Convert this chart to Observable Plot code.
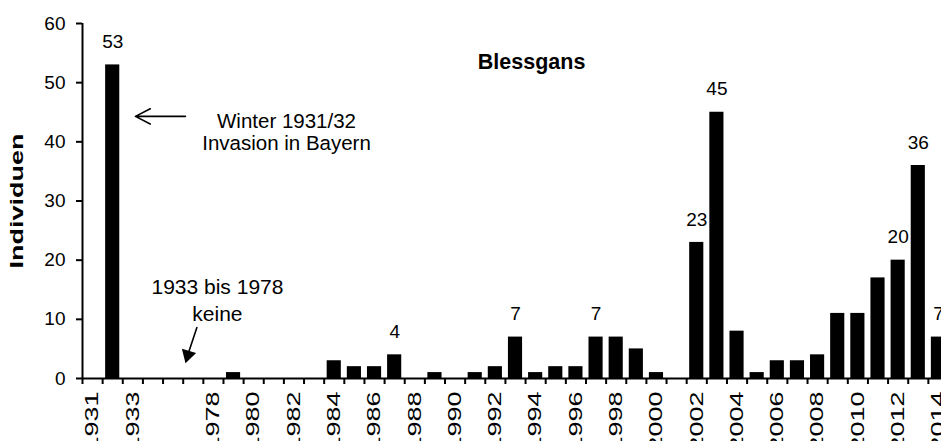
<!DOCTYPE html>
<html><head><meta charset="utf-8">
<script src="https://cdn.jsdelivr.net/npm/d3@7"></script>
<script src="https://cdn.jsdelivr.net/npm/@observablehq/plot@0.6"></script>
<style>html,body{margin:0;padding:0;background:#fff;overflow:hidden}</style>
</head><body><div id="chart"></div>
<script>
// Categories (three unlabeled gap slots between 1933 and 1978)
const years = ["1931","1932","1933","","","",
  "1978","1979","1980","1981","1982","1983","1984","1985","1986","1987","1988","1989",
  "1990","1991","1992","1993","1994","1995","1996","1997","1998","1999","2000","2001",
  "2002","2003","2004","2005","2006","2007","2008","2009","2010","2011","2012","2013","2014"];
const counts = [0,53,0,0,0,0,
  0,1,0,0,0,0,3,2,2,4,0,1,
  0,1,2,7,1,2,2,7,7,5,1,0,
  23,45,8,1,3,3,4,11,11,17,20,36,7];
const labeledYears = ["1932","1987","1993","1997","2002","2003","2012","2013","2014"];
const yTicks = [0,10,20,30,40,50,60];
const title = "Blessgans";
const yLabel = "Individuen";
const noteInvasion = "Winter 1931/32\nInvasion in Bayern";
const noteGap = "1933 bis 1978\nkeine";

const data = years.map((year, i) => ({i, year, n: counts[i]}));
const bars = data.filter(d => d.n > 0);
const labeled = data.filter(d => labeledYears.includes(d.year));
const boundaries = d3.range(years.length + 1);
const labelTicks = data.filter(d => d.i % 2 === 0).map(d => d.i + 0.5);

const plot = Plot.plot({
  width: 941, height: 441,
  marginLeft: 82, marginRight: 0, marginTop: 23, marginBottom: 63,
  style: {fontFamily: "'Liberation Sans', Arial, Helvetica, sans-serif", fontSize: "19px", color: "#000", background: "#fff"},
  x: {type: "linear", domain: [0, years.length], range: [82, 948]},
  y: {domain: [0, 60]},
  marks: [
    Plot.rectY(bars, {x1: "i", x2: d => d.i + 1, y: "n", fill: "#000", insetLeft: 3, insetRight: 3}),
    Plot.ruleY([0], {strokeWidth: 2}),
    Plot.ruleX([0], {y1: 0, y2: 60, strokeWidth: 2}),
    Plot.axisY({ticks: yTicks, tickSize: 6, tickPadding: 11, strokeWidth: 2, fontSize: 19, label: null}),
    Plot.axisX({ticks: boundaries, tickSize: 6, strokeWidth: 2, tickFormat: () => "", label: null}),
    Plot.axisX({ticks: labelTicks, tickSize: 0, tickPadding: 13, tickRotate: -90, fontSize: 18,
      tickFormat: v => years[Math.floor(v)], label: null}),
    Plot.text(labeled, {x: d => d.i + 0.5, y: "n", text: d => String(d.n), dy: -23, fontSize: 19}),
    Plot.text([title], {x: 22.3, y: 53.5, fontSize: 21.5, fontWeight: "bold"}),
    Plot.text([yLabel], {frameAnchor: "left", textAnchor: "middle", dx: -65, rotate: -90, fontWeight: "bold", fontSize: 18}),
    Plot.text([noteInvasion], {x: 10.13, y: 41.7, fontSize: 20.5, lineHeight: 1.08}),
    Plot.text([noteGap], {x: 6.7, y: 13.4, fontSize: 21, lineHeight: 1.29}),
    Plot.arrow([0], {x1: 5.11, y1: 44.3, x2: 2.63, y2: 44.3, stroke: "#000", strokeWidth: 1.6, headLength: 20, headAngle: 55}),
    Plot.arrow([0], {x1: 5.68, y1: 8.6, x2: 5.23, y2: 4.0, stroke: "#000", strokeWidth: 1.6, headLength: 0}),
    Plot.dot([0], {x: 5.23, y: 3.97, symbol: "triangle", r: 5.5, fill: "#000", stroke: "none", rotate: 196})
  ]
});

d3.select(plot).selectAll("text")
  .filter(function() { return (this.getAttribute("transform") || "").includes("rotate(-90)"); })
  .attr("transform", function() { return this.getAttribute("transform") + " scale(1.5,1)"; });

document.getElementById("chart").appendChild(plot);
</script>
</body></html>
